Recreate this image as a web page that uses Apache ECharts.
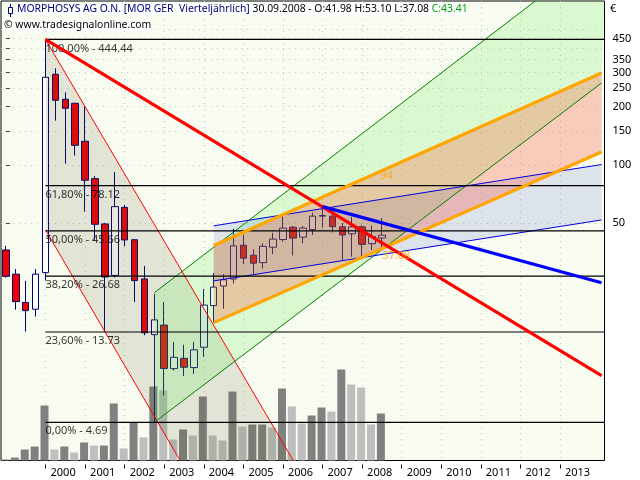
<!DOCTYPE html>
<html><head><meta charset="utf-8">
<style>html,body{margin:0;padding:0;background:#fff}#c{width:640px;height:480px}</style>
<script src="https://cdn.jsdelivr.net/npm/echarts@6/dist/echarts.min.js"></script>
</head><body><div id="c"></div>
<script>
const FONT = '"Noto Sans"';
const FS = 11;
const HFS = 10.4;
// quarters from 1999 Q1 to 2014 Q1
const quarters = [];
for (let y = 1999; y <= 2013; y++) for (let q = 1; q <= 4; q++) quarters.push(y + ' Q' + q);
quarters.push('2014 Q1');
// open, close, low, high
const candles = [
[36.4,26.6,26.2,38.2],[27.3,19.7,17.9,29.0],[19.5,17.7,13.8,25.2],[18.0,27.3,16.5,29.0],
[27.8,283.4,25.3,444.44],[294,215.7,169.3,315.6],[218.3,196.2,101.5,237.2],[208.2,126.3,111.6,209],
[132.5,83.4,57.4,200],[85.0,49.4,41.1,87.7],[49.6,26.4,13.8,50.2],[26.9,60.9,26.2,92.0],
[60.4,41.0,38.0,62.1],[41.1,25.3,19.6,41.3],[25.8,13.6,13.2,30.1],[13.3,15.85,4.69,21.6],
[14.9,8.9,6.45,19.6],[8.88,10.16,8.68,12.2],[10.04,9.03,8.13,11.8],[8.99,11.1,8.34,12.2],
[11.45,18.9,10.2,22.9],[18.8,23.4,15.3,27.7],[23.7,25.55,18.1,27.3],[25.76,38.2,24.4,46.8],
[38.5,33.0,30.8,43.6],[34.2,31.1,27.4,36.7],[31.3,38.0,29.2,39.4],[37.6,41.4,34.7,44.6],
[41.2,47.2,40.2,54.5],[47.7,41.9,34.1,48.4],[42.4,47.2,39.4,48.4],[46.4,54.4,43.5,56.7],
[54.4,54.8,47.5,60.9],[54.4,48.0,44.8,56.4],[47.9,43.5,32.3,50.2],[44.1,47.9,33.6,53.9],
[47.9,38.9,33.9,49.0],[39.2,42.7,36.4,48.6],[41.98,43.41,37.08,53.10]
];
const volumes = [1,3,11,14,55,11,14,8,18,15,15,57,12,38,23,74,70,21,31,25,64,25,20,69,34,36,36,33,72,54,37,45,53,49,91,76,73,36,47];
const volumeDark = [1,1,1,1,1,0,1,0,1,0,1,1,0,1,0,1,0,0,1,0,1,0,0,1,0,1,1,0,1,0,0,1,1,0,1,0,0,0,1];
const fibLevels = [444.44,78.12,45.66,26.68,13.73,4.69];
const fibNames = ['100,00% - 444.44','61,80% - 78.12','50,00% - 45.66','38,20% - 26.68','23,60% - 13.73','0,00% - 4.69'];
const priceLabels = [50,100,150,200,250,300,350,450];
const priceTicks = [50,100,150,200,250,300,350,400,450,500];
const TOP = 702, BOT = 2.98;
// overlay geometry in quarter index / price
const redThick = [[4,444.44],[60.2,8.17]];
const blueThick = [[32,60.9],[60.2,24.65]];
const orangeUp = [[21,38.4],[60.2,298.4]];
const orangeLow = [[21,15.34],[60.2,116.7]];
const greenUp = [[15,21.9],[53.5,TOP]];
const greenLow = [[15,4.69],[60.2,264.9]];
const blueUp = [[21,48.5],[60.2,100.5]];
const blueLow = [[21,25.2],[60.2,52.0]];
const redUp = [[4,444.44],[29.04,BOT]];
const redLow = [[4,46.2],[17.6,BOT]];

function line(data, color, width, z){
  return {type:'line',xAxisIndex:1,yAxisIndex:0,data,symbol:'none',silent:true,z,clip:true,
    lineStyle:{color,width,cap:'butt'}};
}
function poly(verts, color, z){
  return {type:'custom',xAxisIndex:1,yAxisIndex:0,data:verts,silent:true,z,clip:true,
    encode:{x:0,y:1},
    renderItem:(p,api)=> p.dataIndex!==0 ? null : ({type:'polygon',
      shape:{points:verts.map(v=>api.coord(v))},style:{fill:color,stroke:null}})};
}
function textAt(x,y,txt,color,z,dy){
  return {type:'scatter',xAxisIndex:1,yAxisIndex:0,data:[[x,y]],symbolSize:0,silent:true,z,
    label:{show:true,position:'right',distance:0,offset:[0,dy],formatter:txt,color,fontFamily:FONT,fontSize:FS}};
}
const isYear = (i,v)=>/Q1$/.test(v) && +v.slice(0,4)>=2000 && +v.slice(0,4)<=2013;
const series = [
  {type:'bar',xAxisIndex:2,yAxisIndex:1,barWidth:8,silent:true,z:1,
   data:volumes.map((v,i)=>({value:v,itemStyle:{color:volumeDark[i]?'#808080':'#BEBEBE'}}))},
  {type:'candlestick',xAxisIndex:0,yAxisIndex:0,data:candles,barWidth:7,silent:true,z:2,
   itemStyle:{color:'#FFFFFF',color0:'#F00000',borderColor:'#000070',borderColor0:'#000070',borderWidth:1}},
  poly([redUp[0],redUp[1],redLow[1],redLow[0]],'rgba(90,90,60,0.14)',3),
  poly([greenLow[0],greenUp[0],greenUp[1],[60.5,TOP],orangeUp[1],greenLow[1]],'rgba(90,240,70,0.18)',3),
  poly([blueUp[0],blueUp[1],blueLow[1],blueLow[0]],'rgba(40,60,190,0.13)',3),
  poly([orangeUp[0],orangeUp[1],orangeLow[1],orangeLow[0]],'rgba(255,50,20,0.24)',3),
  line(redUp,'#FF0000',1,4),line(redLow,'#FF0000',1,4),
  line(greenUp,'#008000',1,4),line(greenLow,'#008000',1,4),
  line(blueUp,'#0000E0',1,5),line(blueLow,'#0000E0',1,5),
];
fibLevels.forEach((lv,i)=>{
  series.push(line([[4,lv],[60.5,lv]],'#000000',1.2,6));
  series.push(textAt(4,lv,fibNames[i],'#000000',7,9));
});
series.push(line(orangeUp,'#FFA500',3.2,8),line(orangeLow,'#FFA500',3.2,8),
  line(redThick,'#FF0000',3.2,9),line(blueThick,'#0000FF',3.2,9));
series.push(textAt(37.84,87.8,'94','#FFA500',10,0),textAt(38.04,33.9,'37.08','#FFA500',10,0));

const dotted = {show:true,lineStyle:{color:'#C4C8C0',type:[1,5],width:1}};
const hf = HFS+'px '+FONT;
const option = {
  animation:false,
  textStyle:{fontFamily:FONT},
  grid:[
    {left:1,top:1,width:603.5,height:459.5,show:true,backgroundColor:'#F8FCF0',borderColor:'#000',borderWidth:1,z:0},
    {left:0,top:1,width:603.5,height:459.5,show:false,z:1}
  ],
  xAxis:[
    {type:'category',gridIndex:0,data:quarters,position:'bottom',offset:4,boundaryGap:true,
     axisLine:{show:false},
     axisTick:{show:true,alignWithLabel:true,length:4,interval:isYear,lineStyle:{color:'#000'}},
     axisLabel:{show:true,interval:isYear,margin:3,align:'left',padding:[0,0,0,5],color:'#000',fontSize:FS,fontFamily:FONT,
       formatter:v=>v.slice(0,4)},
     splitLine:Object.assign({interval:isYear,alignWithLabel:true},dotted)},
    {type:'value',gridIndex:0,min:-0.5,max:60.5,show:false,splitLine:{show:false}},
    {type:'category',gridIndex:1,data:quarters,show:false}
  ],
  yAxis:[
    {type:'log',gridIndex:0,position:'right',min:BOT,max:TOP,logBase:10,offset:3,
     axisLine:{show:false},
     axisTick:{show:true,length:4,customValues:priceTicks,lineStyle:{color:'#444'}},
     axisLabel:{show:true,margin:5,customValues:priceLabels,color:'#000',fontSize:FS,fontFamily:FONT},
     minorTick:{show:false},minorSplitLine:{show:false},
     splitLine:dotted},
    {type:'value',gridIndex:1,min:0,max:459.5,show:false,splitLine:{show:false}}
  ],
  series,
  graphic:[
    {type:'group',z:20,children:[
      {type:'line',shape:{x1:10.5,y1:4,x2:10.5,y2:17},style:{stroke:'#000080',lineWidth:1}},
      {type:'rect',shape:{x:8.5,y:7.5,width:4,height:6},style:{fill:'#fff',stroke:'#000080',lineWidth:1}}
    ]},
    {type:'text',z:20,x:17,y:3,style:{text:'{a|MORPHOSYS AG O.N. [MOR GER  Vierteljährlich]} {b|30.09.2008 - O:41.98 H:53.10 L:37.08} {c|C:43.41}',
      backgroundColor:'#fff',padding:[1,0,1,0],font:hf,
      rich:{a:{fill:'#000080',font:hf},b:{fill:'#000',font:hf},c:{fill:'#00A000',font:hf}}}},
    {type:'text',z:20,x:4,y:19,style:{text:'© www.tradesignalonline.com',fill:'#000',backgroundColor:'#fff',padding:[1,0,1,0],font:hf}},
    {type:'text',z:20,x:610,y:3,style:{text:'€',fill:'#000',font:FS+'px '+FONT}}
  ]
};
echarts.init(document.getElementById('c')).setOption(option);
</script></body></html>
